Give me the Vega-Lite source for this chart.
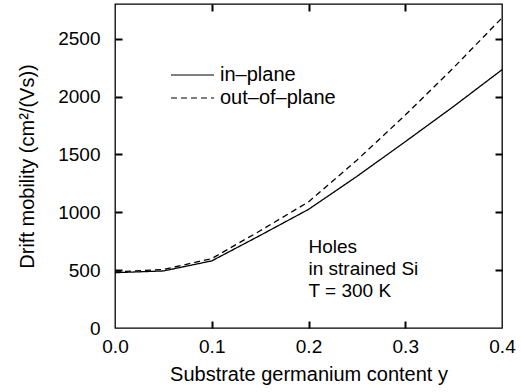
{
  "$schema": "https://vega.github.io/schema/vega-lite/v6.json",
  "width": 387,
  "height": 324,
  "autosize": {"type": "none"},
  "padding": {"left": 115, "top": 4, "right": 19, "bottom": 64},
  "background": "white",
  "config": {
    "font": "Liberation Sans",
    "view": {"stroke": "black", "strokeWidth": 1.3},
    "axis": {
      "grid": false,
      "domain": false,
      "labelColor": "black",
      "titleColor": "black",
      "labelFont": "Liberation Sans",
      "titleFont": "Liberation Sans",
      "labelFontSize": 19,
      "titleFontSize": 20,
      "titleFontWeight": "normal",
      "labelFlush": false,
      "labelOverlap": false,
      "labelBound": false
    }
  },
  "data": {
    "values": [
      {"y": 0.0, "mobility": 478, "series": "in–plane"},
      {"y": 0.05, "mobility": 493, "series": "in–plane"},
      {"y": 0.1, "mobility": 580, "series": "in–plane"},
      {"y": 0.15, "mobility": 800, "series": "in–plane"},
      {"y": 0.2, "mobility": 1025, "series": "in–plane"},
      {"y": 0.25, "mobility": 1310, "series": "in–plane"},
      {"y": 0.3, "mobility": 1610, "series": "in–plane"},
      {"y": 0.35, "mobility": 1915, "series": "in–plane"},
      {"y": 0.4, "mobility": 2232, "series": "in–plane"},
      {"y": 0.0, "mobility": 485, "series": "out–of–plane"},
      {"y": 0.05, "mobility": 505, "series": "out–of–plane"},
      {"y": 0.1, "mobility": 600, "series": "out–of–plane"},
      {"y": 0.15, "mobility": 840, "series": "out–of–plane"},
      {"y": 0.2, "mobility": 1090, "series": "out–of–plane"},
      {"y": 0.25, "mobility": 1450, "series": "out–of–plane"},
      {"y": 0.3, "mobility": 1840, "series": "out–of–plane"},
      {"y": 0.35, "mobility": 2250, "series": "out–of–plane"},
      {"y": 0.4, "mobility": 2680, "series": "out–of–plane"}
    ]
  },
  "layer": [
    {
      "mark": {"type": "line", "color": "black", "strokeWidth": 1.3},
      "encoding": {
        "x": {
          "field": "y", "type": "quantitative",
          "scale": {"domain": [0, 0.4], "nice": false, "zero": false},
          "axis": {
            "orient": "bottom", "values": [0, 0.1, 0.2, 0.3, 0.4], "format": ".1f",
            "ticks": false, "tickSize": 0, "labelPadding": 9,
            "title": "Substrate germanium content y", "titlePadding": 8
          }
        },
        "y": {
          "field": "mobility", "type": "quantitative",
          "scale": {"domain": [0, 2800], "nice": false},
          "axis": {
            "orient": "left", "values": [0, 500, 1000, 1500, 2000, 2500], "format": "d",
            "ticks": false, "tickSize": 0, "labelPadding": 15,
            "title": "Drift mobility (cm²/(Vs))", "titlePadding": 20
          }
        },
        "strokeDash": {
          "field": "series", "type": "nominal",
          "scale": {"domain": ["in–plane", "out–of–plane"], "range": [[1, 0], [6, 4]]},
          "legend": {
            "title": null, "orient": "none", "legendX": 55, "legendY": 61,
            "padding": 0, "symbolType": "stroke", "symbolSize": 1849, "clipHeight": 20,
            "symbolStrokeColor": "black", "symbolStrokeWidth": 1.2,
            "labelFont": "Liberation Sans", "labelFontSize": 20, "labelColor": "black",
            "labelOffset": 5, "rowPadding": 3, "labelLimit": 300
          }
        }
      }
    },
    {
      "mark": {"type": "line", "opacity": 0},
      "encoding": {
        "x": {"field": "y", "type": "quantitative",
          "axis": {"orient": "bottom", "values": [0.1, 0.2, 0.3], "offset": -7, "tickSize": 7, "tickColor": "black", "tickWidth": 2, "labels": false, "title": null}},
        "y": {"field": "mobility", "type": "quantitative",
          "axis": {"orient": "left", "values": [500, 1000, 1500, 2000, 2500], "offset": -7, "tickSize": 7, "tickColor": "black", "tickWidth": 2, "labels": false, "title": null}},
        "detail": {"field": "series"}
      }
    },
    {
      "mark": {"type": "line", "opacity": 0},
      "encoding": {
        "x": {"field": "y", "type": "quantitative",
          "axis": {"orient": "top", "values": [0.1, 0.2, 0.3], "offset": -7, "tickSize": 7, "tickColor": "black", "tickWidth": 2, "labels": false, "title": null}},
        "y": {"field": "mobility", "type": "quantitative",
          "axis": {"orient": "right", "values": [500, 1000, 1500, 2000, 2500], "offset": -7, "tickSize": 7, "tickColor": "black", "tickWidth": 2, "labels": false, "title": null}},
        "detail": {"field": "series"}
      }
    },
    {
      "data": {"values": [{"note": "Holes\nin strained Si\nT = 300 K"}]},
      "mark": {"type": "text", "align": "left", "baseline": "alphabetic", "lineBreak": "\n",
        "fontSize": 19, "lineHeight": 22, "font": "Liberation Sans", "color": "black"},
      "encoding": {
        "x": {"datum": 0.2, "type": "quantitative", "axis": null},
        "y": {"datum": 650, "type": "quantitative", "axis": null},
        "text": {"field": "note"}
      }
    }
  ],
  "resolve": {"axis": {"x": "independent", "y": "independent"}}
}
